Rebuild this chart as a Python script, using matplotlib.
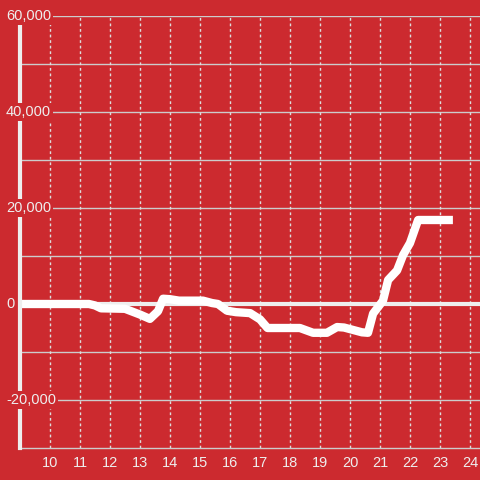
import matplotlib
matplotlib.use("Agg")
import matplotlib.pyplot as plt
from matplotlib.transforms import blended_transform_factory

# data
hours = [9.0, 11.3, 11.5, 11.7, 12.5, 13.0, 13.33, 13.6, 13.77, 14.0, 14.3, 15.1,
         15.4, 15.6, 15.9, 16.2, 16.67, 17.0, 17.25, 18.33, 18.77, 19.23, 19.57,
         19.8, 20.4, 20.6, 20.77, 21.1, 21.27, 21.57, 21.77, 22.0, 22.27, 23.43]
pnl = [0, 0, -300, -900, -1000, -2200, -3100, -1500, 1100, 1000, 700, 700,
       200, 0, -1400, -1700, -1900, -3200, -5000, -5000, -6000, -6000, -4800,
       -4900, -5900, -6000, -2000, 700, 5000, 7000, 10200, 12700, 17500, 17500]
x_ticks = list(range(10, 25))
y_labeled = [60000, 40000, 20000, 0, -20000]
y_lines = [60000, 50000, 40000, 30000, 20000, 10000, -10000, -20000]

bg = '#cc2a2f'
light = '#eeeeee'

plt.rcParams['font.family'] = ['Liberation Sans', 'DejaVu Sans']

fig = plt.figure(figsize=(4.8, 4.8), dpi=100, facecolor=bg)
ax = fig.add_axes([20 / 480, 32 / 480, 460 / 480, 432 / 480])
ax.set_facecolor(bg)

ax.set_xlim(9, 9 + 460 / 30)
ax.set_ylim(-30000, 60000)

# grid
for y in y_lines:
    ax.axhline(y, color='#cccccc', lw=1, zorder=1)
for x in x_ticks:
    ax.axvline(x, color='#dddddd', lw=1, linestyle=(0, (2, 2)), zorder=1)
ax.axhline(0, color=light, lw=3, zorder=2)

# curve
ax.plot(hours, pnl, color='white', lw=6, solid_joinstyle='round',
        solid_capstyle='butt', zorder=3)

# spines
for s in ['top', 'right']:
    ax.spines[s].set_visible(False)
ax.spines['left'].set_color(light)
ax.spines['left'].set_linewidth(3)
ax.spines['left'].set_zorder(4)
ax.spines['bottom'].set_color('#cccccc')
ax.spines['bottom'].set_linewidth(1)

ax.set_xticks(x_ticks)
ax.set_xticklabels([str(x) for x in x_ticks])
ax.tick_params(axis='x', length=0, pad=6, labelsize=10.5, labelcolor=light)
ax.set_yticks([])

# y labels sit over the spine with a red box behind them
trans = blended_transform_factory(fig.transFigure, ax.transData)
for y in y_labeled:
    ax.text(6 / 480, y, f'{y:,}', transform=trans, ha='left', va='center',
            fontsize=10.5, color=light, clip_on=False, zorder=5,
            bbox=dict(facecolor=bg, edgecolor='none', pad=1.5))

fig.savefig('out.png', dpi=100, facecolor=bg)
